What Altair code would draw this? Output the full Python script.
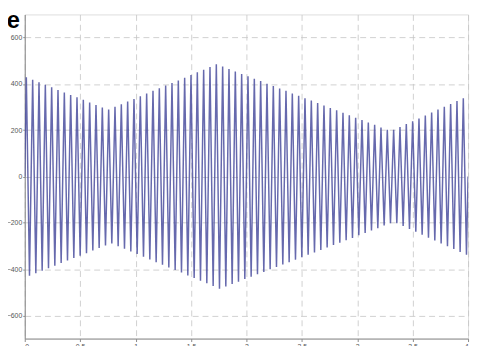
import altair as alt
import pandas as pd

# peak amplitude of each oscillation cycle
upper_peaks = [429, 418, 407, 396, 385, 374, 363, 352, 342, 331, 320, 309, 298,
               289, 301, 312, 324, 335, 347, 358, 370, 381, 393, 404, 415, 427,
               438, 450, 461, 473, 485,
               475, 464, 454, 443, 433, 422, 412, 401, 391, 380, 370, 359, 349,
               338, 328, 317, 307, 296, 286, 275, 265, 254, 244, 233, 223, 212, 202,
               202, 214, 227, 239, 251, 264, 276, 289, 301, 313, 326, 338]
lower_peaks = [-429, -418, -407, -396, -385, -374, -363, -352, -342, -331, -320, -309, -298,
               -289, -301, -312, -324, -335, -347, -358, -370, -381, -393, -404, -415, -427,
               -438, -450, -461, -473, -485,
               -475, -464, -454, -443, -433, -422, -412, -401, -391, -380, -370, -359, -349,
               -338, -328, -317, -307, -296, -286, -275, -265, -254, -244, -233, -223, -212, -202,
               -202, -214, -227, -239, -251, -264, -276, -289, -301, -313, -326, -338]
x_ticks = [0, 0.5, 1, 1.5, 2, 2.5, 3, 3.5, 4]
y_ticks = [-600, -400, -200, 0, 200, 400, 600]
t_end = 4

period = t_end / len(upper_peaks)
rows = [(0.0, 0.0)]
for k, (u, l) in enumerate(zip(upper_peaks, lower_peaks)):
    rows.append(((k + 0.25) * period, u))
    rows.append(((k + 0.75) * period, l))
rows.append((t_end, 0.0))
df = pd.DataFrame(rows, columns=["t", "v"])
df["i"] = range(len(df))

line = alt.Chart(df).mark_line(color="#4b4f9f", strokeWidth=1.5, clip=True,
                               strokeOpacity=0.85).encode(
    x=alt.X("t:Q",
            scale=alt.Scale(domain=[0, 4], nice=False, zero=False),
            axis=alt.Axis(values=x_ticks, title=None, format="~g", grid=True,
                          gridDash=[6, 4], gridColor="#c4c4c4", gridWidth=0.8,
                          domainColor="#8a8a8a", tickColor="#8a8a8a", tickSize=3,
                          labelFontSize=7, labelColor="#555555", labelPadding=1)),
    y=alt.Y("v:Q",
            scale=alt.Scale(domain=[-700, 700], nice=False, zero=False),
            axis=alt.Axis(values=y_ticks, title=None, grid=True,
                          gridDash=[6, 4], gridColor="#c4c4c4", gridWidth=0.8,
                          domainColor="#8a8a8a", tickColor="#8a8a8a", tickSize=2,
                          labelFontSize=7, labelColor="#555555", labelPadding=1)),
    order="i:Q",
)

label = alt.Chart(pd.DataFrame({"s": ["e"]})).mark_text(
    fontSize=24, fontWeight="bold", font="Liberation Sans", color="black",
    align="right", baseline="alphabetic"
).encode(text="s:N", x=alt.value(-5), y=alt.value(14))

chart = alt.layer(line, label).properties(
    width=450, height=329,
    padding={"left": 17, "top": 4, "right": 4, "bottom": 6},
    autosize="none",
).configure_view(stroke=None).configure(background="white")

chart.save("out.html", embed_options={"renderer": "svg", "actions": False})
